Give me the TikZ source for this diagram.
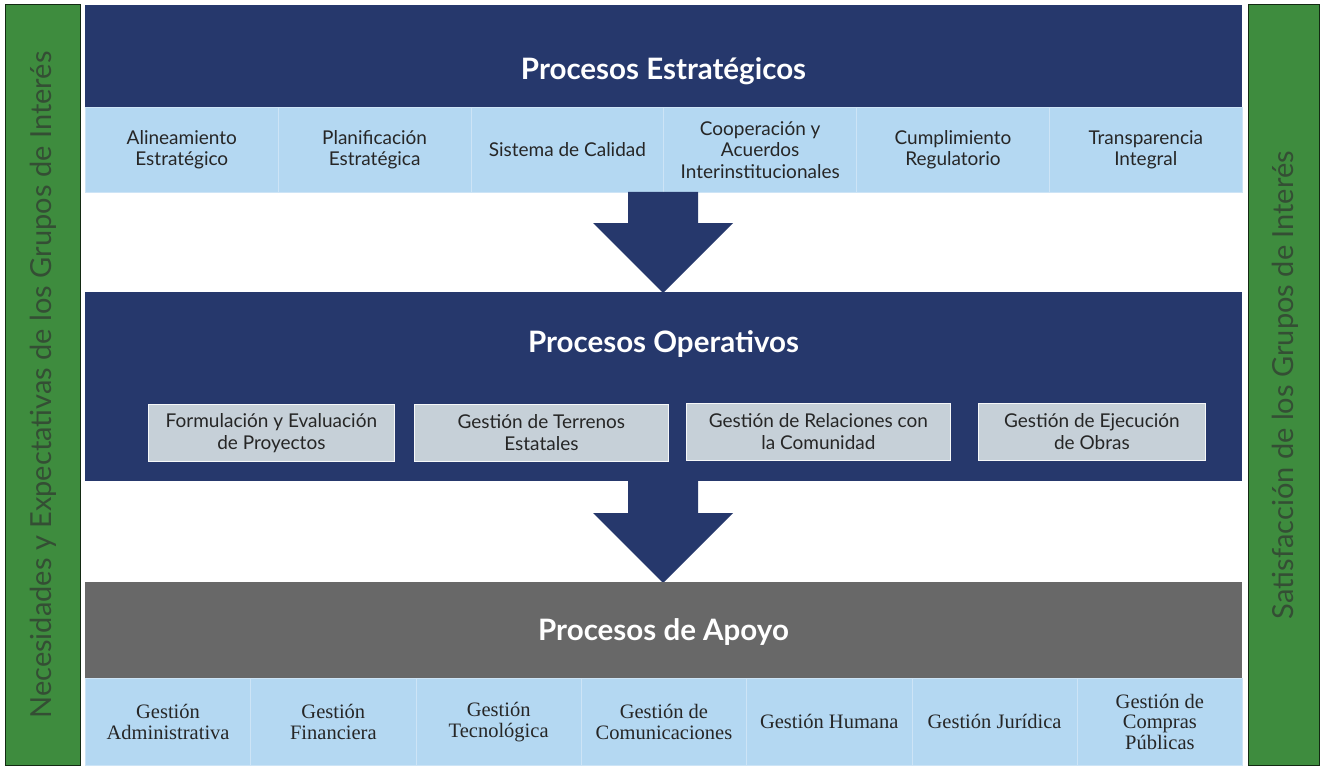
\documentclass[tikz,border=0pt]{standalone}
\usepackage{fontspec}
\setmainfont{Lato}
\newfontfamily\tnr{Liberation Serif}
\definecolor{dblue}{RGB}{38,56,108}
\definecolor{lblue}{RGB}{180,216,242}
\definecolor{sepblue}{RGB}{205,228,246}
\definecolor{pgray}{RGB}{104,104,104}
\definecolor{obox}{RGB}{198,208,216}
\definecolor{sgreen}{RGB}{62,140,62}
\definecolor{stext}{RGB}{52,78,52}
\begin{document}
\begin{tikzpicture}[x=1pt,y=-1pt,
  title/.style={text=white,font=\fontsize{29.5}{34}\selectfont\bfseries},
  scell/.style={fill=lblue,draw=sepblue,line width=0.8pt,anchor=north west,minimum width=192.8pt,minimum height=85pt,inner sep=0pt,align=center,text=black!85,font=\fontsize{19}{21.5}\selectfont},
  acell/.style={fill=lblue,draw=sepblue,line width=0.8pt,anchor=north west,minimum width=165.3pt,minimum height=87pt,inner sep=0pt,align=center,text=black!85,font=\tnr\fontsize{20.5}{20.5}\selectfont},
  obx/.style={fill=obox,draw=white!85!obox,line width=0.8pt,anchor=north west,minimum height=57pt,inner sep=0pt,align=center,text=black!85,font=\fontsize{19}{22}\selectfont},
  bigarrow/.style={fill=dblue,draw=none},
  sidebar/.style={fill=sgreen,draw=black!70!sgreen,line width=1pt},
  sidetext/.style={text=stext,rotate=90,font=\fontsize{29}{32}\selectfont}]
\useasboundingbox (0,0) rectangle (1322,770);
\fill[white] (0,0) rectangle (1322,770);
% side bars
\draw[sidebar] (5,5) rectangle (80,765);
\draw[sidebar] (1248,5) rectangle (1319,765);
\node[sidetext] (lefttext) at (43,385) {Necesidades y Expectativas de los Grupos de Interés};
\node[sidetext] (righttext) at (1285,385) {Satisfacción de los Grupos de Interés};
% strategic
\fill[dblue] (85,5) rectangle (1242,107);
\node[title] (stitle) at (663.5,71) {Procesos Estratégicos};
\node[scell] (s1) at (85,107) {Alineamiento\\Estratégico};
\node[scell] (s2) at (277.8,107) {Planificación\\Estratégica};
\node[scell] (s3) at (470.6,107) {Sistema de Calidad};
\node[scell] (s4) at (663.4,107) {Cooperación y\\Acuerdos\\Interinstitucionales};
\node[scell] (s5) at (856.2,107) {Cumplimiento\\Regulatorio};
\node[scell] (s6) at (1049,107) {Transparencia\\Integral};
% arrow 1
\fill[bigarrow] (628,192) -- (698,192) -- (698,223) -- (733,223) -- (663,293) -- (593,223) -- (628,223) -- cycle;
% operative
\fill[dblue] (85,292) rectangle (1242,481);
\node[title] (otitle) at (663.5,344) {Procesos Operativos};
\node[obx,minimum width=246pt] (o1) at (148,404) {Formulación y Evaluación\\de Proyectos};
\node[obx,minimum width=254pt] (o2) at (414,404) {Gestión de Terrenos\\Estatales};
\node[obx,minimum width=264pt] (o3) at (686,403) {Gestión de Relaciones con\\la Comunidad};
\node[obx,minimum width=227pt] (o4) at (978,403) {Gestión de Ejecución\\de Obras};
% arrow 2
\fill[bigarrow] (628,481) -- (698,481) -- (698,513) -- (733,513) -- (663,583) -- (593,513) -- (628,513) -- cycle;
% support
\fill[pgray] (85,582) rectangle (1242,678);
\node[title] (atitle) at (663.5,632) {Procesos de Apoyo};
\node[acell] (a1) at (85,678) {Gestión\\Administrativa};
\node[acell] (a2) at (250.3,678) {Gestión\\Financiera};
\node[acell] (a3) at (415.6,678) {Gestión\\Tecnológica};
\node[acell] (a4) at (580.9,678) {Gestión de\\Comunicaciones};
\node[acell] (a5) at (746.2,678) {Gestión Humana};
\node[acell] (a6) at (911.5,678) {Gestión Jurídica};
\node[acell] (a7) at (1076.8,678) {Gestión de\\Compras\\Públicas};
\end{tikzpicture}
\end{document}
